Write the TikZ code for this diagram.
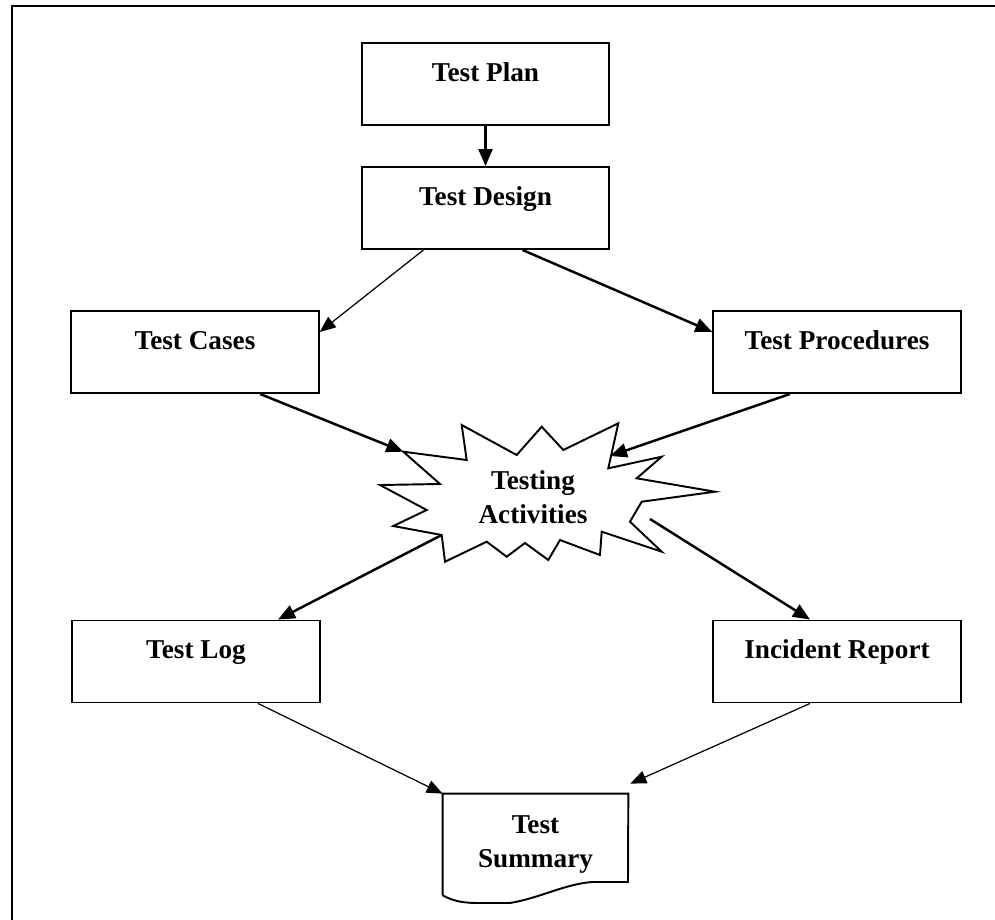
\documentclass[tikz,border=0pt]{standalone}
\usepackage{fontspec}
\setmainfont{Liberation Serif}
\usetikzlibrary{arrows.meta,calc}

\begin{document}
\begin{tikzpicture}[x=0.02cm,y=-0.02cm,
        every node/.style={font=\bfseries\fontsize{15.5}{19.5}\selectfont},
        box/.style={draw,line width=1.1pt,minimum width=4.95cm,inner ysep=0.26cm,text height=0.5cm,text depth=0.62cm},
        heavy/.style={line width=1.4pt,-{Triangle[length=3.4mm,width=2.8mm]}},
        light/.style={line width=0.7pt,-{Triangle[length=3.2mm,width=2.6mm]}}]
        \useasboundingbox (0,0) rectangle (995,920);
        \clip (0,0) rectangle (995,920);
        \draw[line width=1.1pt] (12,6) rectangle (1010,935);

        \node[box] (plan) at (485.5,84) {Test Plan};
        \node[box] (design) at (485.5,208) {Test Design};
        \node[box] (cases) at (195,352) {Test Cases};
        \node[box] (proc) at (837,352) {Test Procedures};
        \node[box] (log) at (196,661.5) {Test Log};
        \node[box] (incident) at (837,661.5) {Incident Report};
        \node[align=center] (act) at (533,497.5) {Testing\\Activities};
        \node[minimum width=3.7cm,minimum height=2.02cm,align=center] (summary) at (535.5,844.5) {Test\\Summary};

        % explosion round the testing activities
        \draw[line width=1.1pt] (461.7,425) -- (466.7,460) -- (403.3,451.7) -- (440,484) -- (380,485)
            -- (426.7,510) -- (393.3,526) -- (441.7,535) -- (445,561.7) -- (486.7,541.7) -- (506.7,556.7)
            -- (525,543) -- (548.3,560) -- (560,540) -- (600,555) -- (601.7,531.7) -- (661.7,551.7)
            -- (630,521.7) -- (641.7,501.7) -- (715,491.7) -- (636.7,478.3) -- (661.7,456.7) -- (608.3,468.3)
            -- (618.3,423.3) -- (563.3,450) -- (541.7,426.7) -- (516.7,455) -- cycle;
        \coordinate (actw) at (403.3,451.7);
        \coordinate (acte) at (610,456);
        \coordinate (actsw) at (441.7,535);
        \coordinate (actse) at (650,519);

        % document outline of the summary
        \draw[line width=1.1pt] (summary.south west) -- (summary.north west) -- (summary.north east) -- (628,882)
            -- (592,882) .. controls (565,884) and (540,898) .. (510,903) -- (480,903)
            .. controls (465,903) and (455,902) .. (summary.south west);

        \draw[heavy] (plan) -- (design);
        \draw[light] ($(design.south)+(-62,0)$) -- ($(cases.east)+(0,-20)$);
        \draw[heavy] ($(design.south)+(37,0)$) -- ($(proc.west)+(0,-20)$);
        \draw[heavy] ($(cases.south)+(65,0)$) -- (actw);
        \draw[heavy] ($(proc.south)+(-47,0)$) -- (acte);
        \draw[heavy] (actsw) -- ($(log.north)+(82,0)$);
        \draw[heavy] (actse) -- ($(incident.north)+(-27,0)$);
        \draw[light] ($(log.south)+(62,0)$) -- (summary.north west);
        \draw[light] ($(incident.south)+(-27,0)$) -- ($(summary.north east)+(2,-10)$);
\end{tikzpicture}
\end{document}
